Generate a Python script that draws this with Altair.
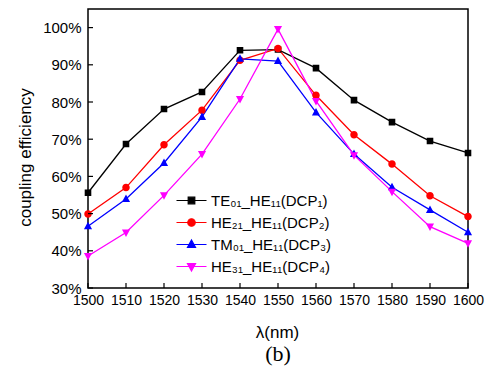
import altair as alt
import pandas as pd

wavelength = [1500, 1510, 1520, 1530, 1540, 1550, 1560, 1570, 1580, 1590, 1600]
te01 = [55.6, 68.7, 78.1, 82.7, 93.9, 94.1, 89.1, 80.5, 74.6, 69.5, 66.3]
he21 = [49.9, 57.0, 68.5, 77.8, 91.2, 94.4, 81.8, 71.2, 63.3, 54.8, 49.2]
tm01 = [46.6, 53.9, 63.6, 76.0, 91.6, 91.0, 77.2, 66.0, 57.1, 51.0, 45.0]
he31 = [38.6, 44.9, 54.9, 66.0, 80.8, 99.6, 80.3, 65.7, 55.9, 46.5, 42.0]

series_labels = ["TE₀₁_HE₁₁(DCP₁)", "HE₂₁_HE₁₁(DCP₂)", "TM₀₁_HE₁₁(DCP₃)", "HE₃₁_HE₁₁(DCP₄)"]
series_values = [te01, he21, tm01, he31]
colors = ["#000000", "#ff0000", "#0000ff", "#ff00ff"]
# marker shapes: a zero-area horizontal segment (only visible in the stroked legend) + marker
marker_paths = [
    "M-2,0H2M-0.44,-0.44H0.44V0.44H-0.44Z",
    "M-2,0H2M-0.5,0A0.5,0.5,0,1,1,0.5,0A0.5,0.5,0,1,1,-0.5,0Z",
    "M-2,0H2M0,-0.6L0.54,0.4L-0.54,0.4Z",
    "M-2,0H2M0,0.6L0.54,-0.4L-0.54,-0.4Z",
]
x_ticks = [1500, 1510, 1520, 1530, 1540, 1550, 1560, 1570, 1580, 1590, 1600]
y_ticks = [30, 40, 50, 60, 70, 80, 90, 100]

rows = []
for name, vals in zip(series_labels, series_values):
    for w, v in zip(wavelength, vals):
        rows.append({"wl": w, "eff": v, "series": name})
df = pd.DataFrame(rows)
xt = pd.DataFrame({"wl": x_ticks})
yt = pd.DataFrame({"eff": y_ticks})

W, H = 380, 279
FONT = "Liberation Sans"

xscale = alt.Scale(domain=[1500, 1600], nice=False, zero=False)
yscale = alt.Scale(domain=[30, 105], nice=False, zero=False)

xaxis = alt.Axis(values=x_ticks, format="d", labelFontSize=14, labelPadding=5, tickSize=0,
                 domain=False, grid=False, labelFont=FONT, labelColor="#000", labelOverlap=False,
                 labelFlush=False,
                 title="λ(nm)", titleFont=FONT, titleFontSize=17, titleFontWeight="normal",
                 titleX=189, titleY=44, titleBaseline="middle", titleColor="#000")
yaxis = alt.Axis(values=y_ticks, labelExpr="datum.value + '%'", labelFontSize=15, labelPadding=7,
                 tickSize=0, domain=False, grid=False, labelFont=FONT, labelColor="#000",
                 labelOverlap=False, labelFlush=False,
                 title="coupling efficiency", titleFont=FONT, titleFontSize=17,
                 titleFontWeight="normal", titleX=-63, titleY=148, titleBaseline="middle",
                 titleAngle=-90, titleAlign="center", titleColor="#000")

cscale = alt.Scale(domain=series_labels, range=colors)
leg = alt.Legend(
    title=None, orient="none", legendX=95, legendY=183,
    labelFont=FONT, labelFontSize=15, labelColor="#000", labelOffset=11,
    symbolSize=225, symbolStrokeWidth=1.2, rowPadding=5,
    symbolFillColor="#000", symbolStrokeColor="#000", symbolOpacity=1,
)

X = alt.X("wl:Q", scale=xscale, axis=xaxis)
Y = alt.Y("eff:Q", scale=yscale, axis=yaxis)

lines = alt.Chart(df).mark_line(strokeWidth=1.3).encode(
    x=X, y=Y,
    stroke=alt.Stroke("series:N", scale=cscale, legend=leg),
    detail="series:N",
)

points = alt.Chart(df).mark_point(filled=True, opacity=1, size=225).encode(
    x=X, y=Y,
    fill=alt.Fill("series:N", scale=cscale, legend=leg),
    shape=alt.Shape("series:N", scale=alt.Scale(domain=series_labels, range=marker_paths), legend=leg),
)

xticks = alt.Chart(xt).mark_rule(color="#000", strokeWidth=1.2).encode(
    x=X, y=alt.value(H), y2=alt.value(H - 5)
)
yticks = alt.Chart(yt).mark_rule(color="#000", strokeWidth=1.2).encode(
    y=Y, x=alt.value(0), x2=alt.value(5)
)

chart = alt.layer(lines, points, xticks, yticks).properties(
    width=W, height=H,
    autosize=alt.AutoSizeParams(type="none"),
    padding={"left": 88, "top": 9, "right": 22, "bottom": 82},
    title=alt.TitleParams("(b)", orient="bottom", font="Liberation Serif", fontSize=22,
                          fontWeight="normal", color="#000", offset=4, anchor="middle"),
    background="white",
).configure_view(stroke="#000", strokeWidth=1.5)

chart.save("out.html", embed_options={"renderer": "svg", "actions": False})
